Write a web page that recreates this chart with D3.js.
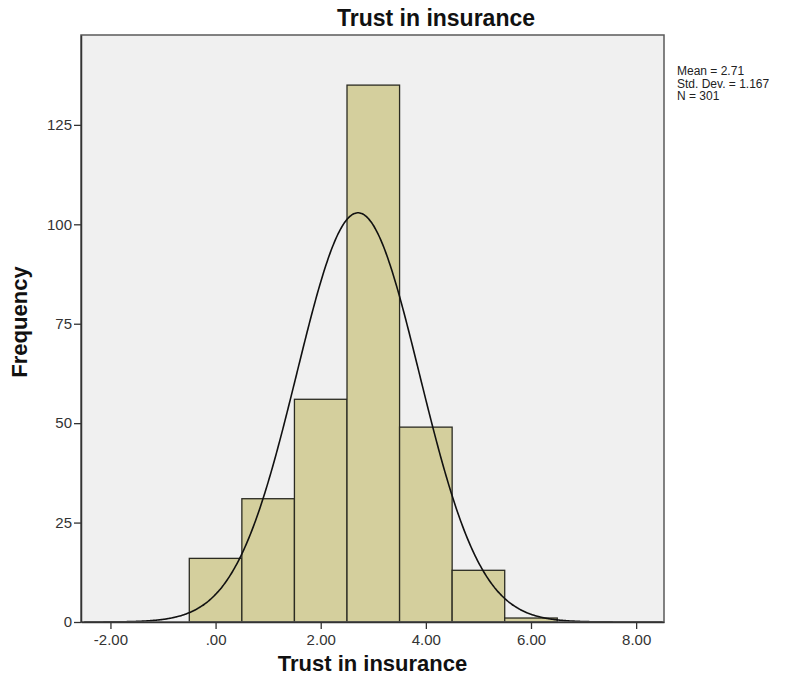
<!DOCTYPE html>
<html>
<head>
<meta charset="utf-8">
<script src="https://cdn.jsdelivr.net/npm/d3@7"></script>
<style>
  body { margin: 0; background: #fff; }
  svg { display: block; font-family: Arial, "Liberation Sans", sans-serif; }
</style>
</head>
<body>
<svg id="chart" width="794" height="690"></svg>
<script>
// Histogram of "Trust in insurance" with fitted normal curve
const binCenters = [0, 1, 2, 3, 4, 5, 6];
const frequencies = [16, 31, 56, 135, 49, 13, 1];
const binWidth = 1;
const xTicks = [-2, 0, 2, 4, 6, 8];
const yTicks = [0, 25, 50, 75, 100, 125];
const statMean = 2.71;
const statSD = 1.167;
const statN = 301;
const statLines = ["Mean = 2.71", "Std. Dev. = 1.167", "N = 301"];

const svg = d3.select("#chart");
const plot = { left: 81, right: 664, top: 35, bottom: 622 };
const plotW = plot.right - plot.left;
const plotH = plot.bottom - plot.top;

const x = d3.scaleLinear().domain([-2.56, 8.53]).range([plot.left, plot.right]);
const y = d3.scaleLinear().domain([0, 147.6]).range([plot.bottom, plot.top]);

// plot background
svg.append("rect")
  .attr("x", plot.left).attr("y", plot.top)
  .attr("width", plotW).attr("height", plotH)
  .attr("fill", "#f0f0f0");

// bars
svg.append("g").selectAll("rect")
  .data(binCenters.map((c, i) => ({ c, f: frequencies[i] })))
  .join("rect")
  .attr("x", d => x(d.c - binWidth / 2))
  .attr("width", d => x(d.c + binWidth / 2) - x(d.c - binWidth / 2))
  .attr("y", d => y(d.f))
  .attr("height", d => y(0) - y(d.f))
  .attr("fill", "#d4cf9d")
  .attr("stroke", "#2b2b22")
  .attr("stroke-width", 1.3);

// normal curve scaled to counts
const pdf = v => statN * binWidth / (statSD * Math.sqrt(2 * Math.PI)) *
  Math.exp(-0.5 * Math.pow((v - statMean) / statSD, 2));
const curvePts = d3.range(-2.5, 8.5001, 0.02).map(v => [v, pdf(v)]);
svg.append("path")
  .datum(curvePts)
  .attr("fill", "none")
  .attr("stroke", "#111")
  .attr("stroke-width", 1.6)
  .attr("d", d3.line().x(d => x(d[0])).y(d => y(d[1])).curve(d3.curveBasis));

// plot frame
svg.append("rect")
  .attr("x", plot.left).attr("y", plot.top)
  .attr("width", plotW).attr("height", plotH)
  .attr("fill", "none").attr("stroke", "#5a5a5a").attr("stroke-width", 1.5);

// axes
const fmtX = d => d === 0 ? ".00" : d3.format(".2f")(d).replace("\u2212", "-");
const xAxis = d3.axisBottom(x).tickValues(xTicks).tickSize(7).tickSizeOuter(0)
  .tickFormat(fmtX);
const gx = svg.append("g").attr("transform", `translate(0,${plot.bottom})`).call(xAxis);
gx.select(".domain").attr("stroke", "#333").attr("stroke-width", 1.5);
gx.selectAll(".tick line").attr("stroke", "#333").attr("stroke-width", 1.3);
gx.selectAll(".tick text").attr("font-size", 15).attr("fill", "#333").attr("dy", "0.85em")
  .attr("font-family", "Arial, 'Liberation Sans', sans-serif");

const yAxis = d3.axisLeft(y).tickValues(yTicks).tickSize(7).tickSizeOuter(0);
const gy = svg.append("g").attr("transform", `translate(${plot.left},0)`).call(yAxis);
gy.select(".domain").attr("stroke", "#333").attr("stroke-width", 1.5);
gy.selectAll(".tick line").attr("stroke", "#333").attr("stroke-width", 1.3);
gy.selectAll(".tick text").attr("font-size", 15).attr("fill", "#333").attr("x", -9)
  .attr("font-family", "Arial, 'Liberation Sans', sans-serif");

// chart title, centred over plot plus statistics area
svg.append("text")
  .attr("x", 436).attr("y", 26)
  .attr("text-anchor", "middle")
  .attr("font-size", 23).attr("font-weight", "bold").attr("fill", "#111")
  .text("Trust in insurance");

svg.append("text")
  .attr("x", (plot.left + plot.right) / 2).attr("y", 671)
  .attr("text-anchor", "middle")
  .attr("font-size", 22).attr("font-weight", "bold").attr("fill", "#111")
  .text("Trust in insurance");

svg.append("text")
  .attr("transform", `translate(27,322) rotate(-90)`)
  .attr("text-anchor", "middle")
  .attr("font-size", 22).attr("font-weight", "bold").attr("fill", "#111")
  .text("Frequency");

// summary statistics
svg.append("g").selectAll("text")
  .data(statLines)
  .join("text")
  .attr("x", 677)
  .attr("y", (d, i) => 75 + i * 12.5)
  .attr("font-size", 12).attr("fill", "#222")
  .text(d => d);
</script>
</body>
</html>
